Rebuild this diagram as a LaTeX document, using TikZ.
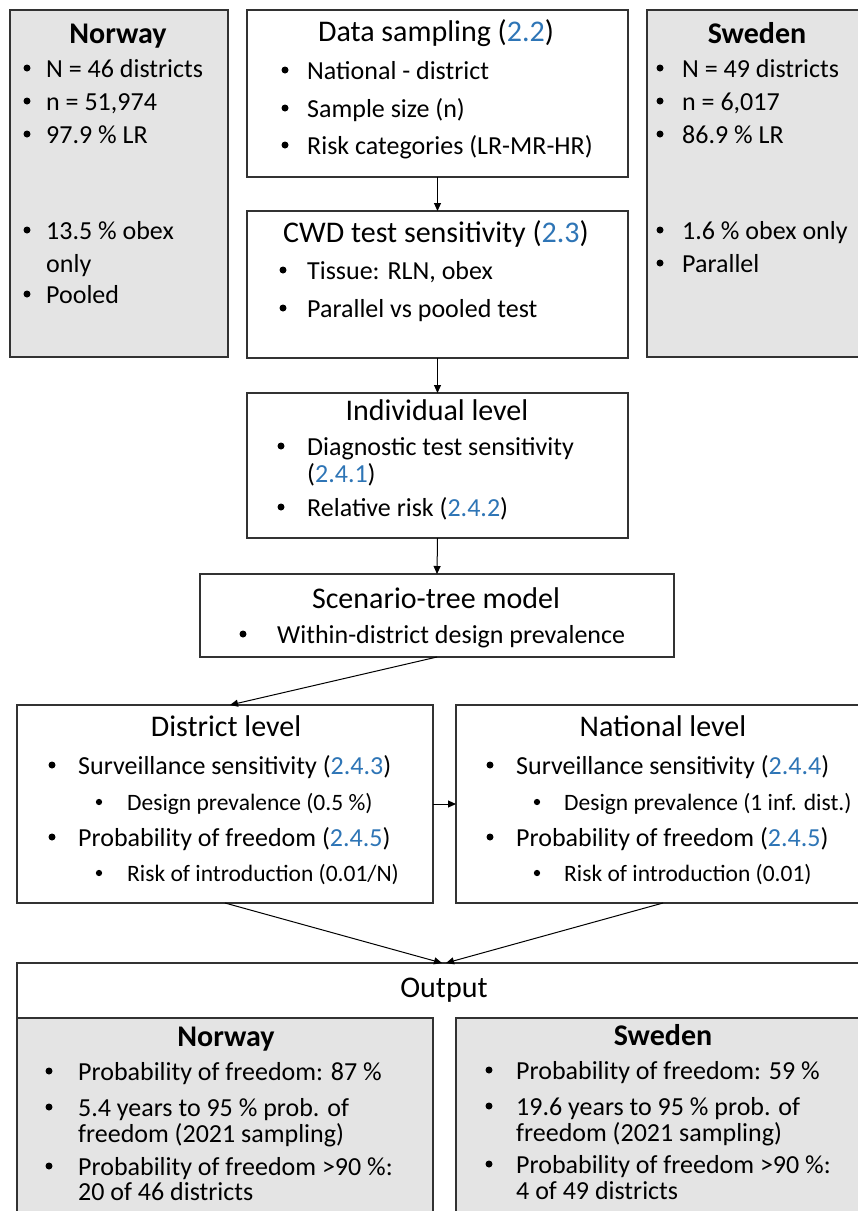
\documentclass[tikz,border=0pt]{standalone}
\usepackage{fontspec}
\setmainfont{Carlito}
\usetikzlibrary{arrows.meta}
\definecolor{secblue}{RGB}{46,117,182}
\definecolor{boxgray}{RGB}{228,228,228}
\definecolor{edge}{RGB}{50,50,50}
\newcommand\sref[1]{\textcolor{secblue}{#1}}
\newcommand\ftitle{\fontsize{30}{34}\selectfont}
\newcommand\fbody{\fontsize{26}{30}\selectfont}
\newcommand\fsub{\fontsize{23.5}{27}\selectfont}
\begin{document}
\begin{tikzpicture}[x=1pt,y=-1pt,
  box/.style={draw=edge,line width=1.2pt,fill=white,inner sep=0pt,outer sep=0pt},
  gbox/.style={box,fill=boxgray},
  ttl/.style={anchor=base,inner sep=0pt,font=\ftitle},
  bttl/.style={anchor=base,inner sep=0pt,font=\ftitle\bfseries},
  txt/.style={anchor=base west,inner sep=0pt,font=\fbody},
  stxt/.style={anchor=base west,inner sep=0pt,font=\fsub},
  bul/.style={circle,fill=black,inner sep=0pt,minimum size=7pt,yshift=9pt},
  sbul/.style={circle,fill=black,inner sep=0pt,minimum size=6.3pt,yshift=8pt},
  arr/.style={draw=black,line width=1pt,-{Triangle[length=8pt,width=7pt]}}]
\useasboundingbox (0,0) rectangle (858,1211);
\clip (0,0) rectangle (858,1211);
% boxes
\node[gbox,minimum width=218pt,minimum height=347pt] (nortop) at (119,183.5) {};
\node[box,minimum width=381pt,minimum height=167pt] (data) at (437.5,93.5) {};
\node[box,minimum width=381pt,minimum height=147pt] (cwd) at (437.5,284.5) {};
\node[gbox,minimum width=223pt,minimum height=347pt] (swetop) at (758.5,183.5) {};
\node[box,minimum width=381pt,minimum height=145pt] (indiv) at (437.5,465.5) {};
\node[box,minimum width=474pt,minimum height=83pt] (scen) at (437,615.5) {};
\node[box,minimum width=416pt,minimum height=198pt] (dist) at (225,804) {};
\node[box,minimum width=414pt,minimum height=198pt] (nat) at (663,804) {};
\node[box,minimum width=853pt,minimum height=267pt] (out) at (443.5,1096.5) {};
\node[gbox,minimum width=416pt,minimum height=212pt] (norout) at (225,1124) {};
\node[gbox,minimum width=414pt,minimum height=212pt] (sweout) at (663,1124) {};
% Norway top
\node[bttl] (nortitle) at (118,43) {Norway};
\node[bul] (nd1) at (27,77) {}; \node[txt] (nt1) at (46,77) {N = 46 districts};
\node[bul] (nd2) at (27,110) {}; \node[txt] (nt2) at (46,110) {n = 51,974};
\node[bul] (nd3) at (27,143) {}; \node[txt] (nt3) at (46,143) {97.9 \% LR};
\node[bul] (nd4) at (27,239) {}; \node[txt] (nt4) at (46,239) {13.5 \% obex};
\node[txt] (nt4b) at (46,272) {only};
\node[bul] (nd5) at (27,303) {}; \node[txt] (nt5) at (46,303) {Pooled};
% Sweden top
\node[bttl] (swetitle) at (757,43) {Sweden};
\node[bul] (sd1) at (660,77) {}; \node[txt] (st1) at (682,77) {N = 49 districts};
\node[bul] (sd2) at (660,110) {}; \node[txt] (st2) at (682,110) {n = 6,017};
\node[bul] (sd3) at (660,143) {}; \node[txt] (st3) at (682,143) {86.9 \% LR};
\node[bul] (sd4) at (660,239) {}; \node[txt] (st4) at (682,239) {1.6 \% obex only};
\node[bul] (sd5) at (660,272) {}; \node[txt] (st5) at (682,272) {Parallel};
% Data sampling
\node[ttl] (datatitle) at (436,41) {Data sampling (\sref{2.2})};
\node[bul] (dd1) at (285,79) {}; \node[txt] (dt1) at (307,79) {National - district};
\node[bul] (dd2) at (285,117) {}; \node[txt] (dt2) at (307,117) {Sample size (n)};
\node[bul] (dd3) at (285,154) {}; \node[txt] (dt3) at (307,154) {Risk categories (LR-MR-HR)};
% CWD
\node[ttl] (cwdtitle) at (436,242) {CWD test sensitivity (\sref{2.3})};
\node[bul] (cd1) at (283,279) {}; \node[txt] (ct1) at (307,279) {Tissue: RLN, obex};
\node[bul] (cd2) at (283,317) {}; \node[txt] (ct2) at (307,317) {Parallel vs pooled test};
% Individual
\node[ttl] (indtitle) at (437,420) {Individual level};
\node[bul] (id1) at (281,455) {}; \node[txt] (it1) at (307,455) {Diagnostic test sensitivity};
\node[txt] (it1b) at (307,482) {(\sref{2.4.1})};
\node[bul] (id2) at (281,516) {}; \node[txt] (it2) at (307,516) {Relative risk (\sref{2.4.2})};
% Scenario
\node[ttl] (scentitle) at (436,608) {Scenario-tree model};
\node[bul] (scd1) at (243,643) {}; \node[txt] (sct1) at (277,643) {Within-district design prevalence};
% District
\node[ttl] (disttitle) at (226,736) {District level};
\node[bul] (did1) at (52,774) {}; \node[txt] (dit1) at (78,774) {Surveillance sensitivity (\sref{2.4.3})};
\node[sbul] (did2) at (99,810) {}; \node[stxt] (dit2) at (127,810) {Design prevalence (0.5 \%)};
\node[bul] (did3) at (52,846) {}; \node[txt] (dit3) at (78,846) {Probability of freedom (\sref{2.4.5})};
\node[sbul] (did4) at (99,881) {}; \node[stxt] (dit4) at (127,881) {Risk of introduction (0.01/N)};
% National
\node[ttl] (nattitle) at (663,736) {National level};
\node[bul] (nad1) at (490,774) {}; \node[txt] (nat1) at (516,774) {Surveillance sensitivity (\sref{2.4.4})};
\node[sbul] (nad2) at (537,810) {}; \node[stxt] (nat2) at (564,810) {Design prevalence (1 inf. dist.)};
\node[bul] (nad3) at (490,846) {}; \node[txt] (nat3) at (516,846) {Probability of freedom (\sref{2.4.5})};
\node[sbul] (nad4) at (537,881) {}; \node[stxt] (nat4) at (564,881) {Risk of introduction (0.01)};
% Output
\node[ttl] (outtitle) at (444,997) {Output};
\node[bttl] (noroutt) at (226,1046) {Norway};
\node[bul] (od1) at (49,1080) {}; \node[txt] (ot1) at (78,1080) {Probability of freedom: 87 \%};
\node[bul] (od2) at (49,1116) {}; \node[txt] (ot2) at (78,1116) {5.4 years to 95 \% prob. of};
\node[txt] (ot2b) at (78,1142) {freedom (2021 sampling)};
\node[bul] (od3) at (49,1175) {}; \node[txt] (ot3) at (78,1175) {Probability of freedom >90 \%:};
\node[txt] (ot3b) at (78,1200) {20 of 46 districts};
\node[bttl] (sweoutt) at (663,1045) {Sweden};
\node[bul] (wd1) at (489,1079) {}; \node[txt] (wt1) at (516,1079) {Probability of freedom: 59 \%};
\node[bul] (wd2) at (489,1115) {}; \node[txt] (wt2) at (516,1115) {19.6 years to 95 \% prob. of};
\node[txt] (wt2b) at (516,1141) {freedom (2021 sampling)};
\node[bul] (wd3) at (489,1173) {}; \node[txt] (wt3) at (516,1173) {Probability of freedom >90 \%:};
\node[txt] (wt3b) at (516,1199) {4 of 49 districts};
% connectors
\draw[arr] (data.south) -- (cwd.north);
\draw[arr] (cwd.south) -- (indiv.north);
\draw[arr] (indiv.south) -- (scen.north);
\draw[arr] (scen.south) -- ([xshift=5pt]dist.north);
\draw[arr] (dist.east) -- (nat.west);
\draw[arr] (dist.south) -- ([xshift=-1.5pt]out.north);
\draw[arr] (nat.south) -- ([xshift=2.5pt]out.north);
\end{tikzpicture}
\end{document}
